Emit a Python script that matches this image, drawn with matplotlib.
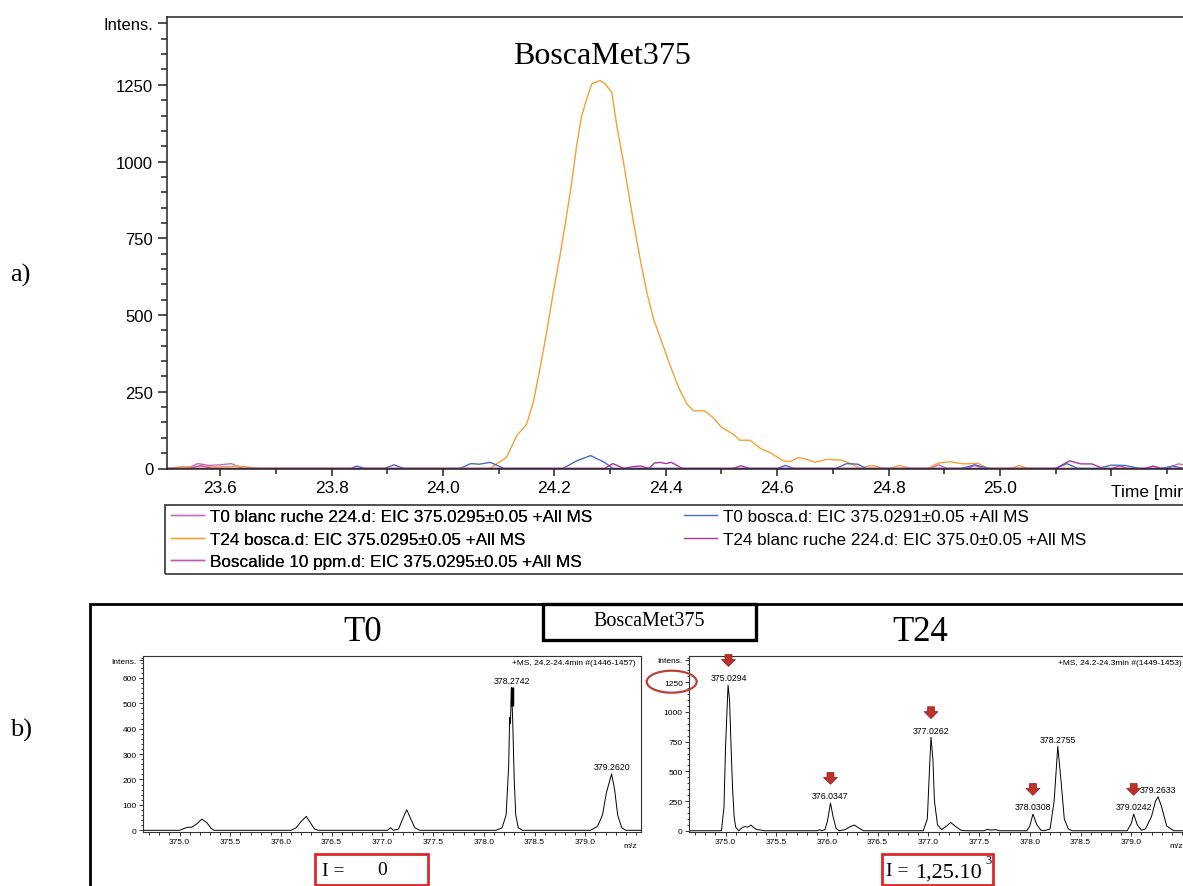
import matplotlib
matplotlib.use('Agg')
import matplotlib.pyplot as plt
from matplotlib.patches import Rectangle, Ellipse
from matplotlib.ticker import MultipleLocator, FixedLocator

plt.rcParams['font.family'] = ['Liberation Sans', 'DejaVu Sans']

W, H = 1183, 887

# ---- a) EIC chromatograms (time [min], intensity) ----
t24_bosca_t = [23.505, 23.53, 23.55, 23.57, 23.59, 23.61, 23.63, 23.65, 23.67, 24.084,
               24.114, 24.132, 24.150, 24.162, 24.174, 24.186, 24.198, 24.210, 24.222, 24.231,
               24.240, 24.249, 24.258, 24.267, 24.282, 24.291, 24.303, 24.312, 24.324, 24.333,
               24.342, 24.354, 24.366, 24.378, 24.393, 24.408, 24.423, 24.438, 24.450, 24.470,
               24.485, 24.500, 24.521, 24.533, 24.551, 24.572, 24.587, 24.611, 24.623, 24.638,
               24.653, 24.668, 24.689, 24.716, 24.731, 24.749, 24.765, 24.775, 24.79, 24.80,
               24.82, 24.84, 24.87, 24.89, 24.91, 24.935, 24.96, 24.98, 25.02, 25.035,
               25.05, 25.45]
t24_bosca_i = [0, 6, 5, 7, 5, 6, 8, 5, 0, 0,
               36, 106, 144, 215, 324, 443, 574, 693, 824, 932,
               1052, 1149, 1204, 1253, 1264, 1253, 1226, 1117, 998, 900,
               802, 682, 574, 487, 411, 335, 264, 210, 188, 188,
               166, 134, 112, 92, 92, 63, 52, 25, 22, 36,
               30, 20, 30, 27, 17, 0, 9, 9, 0, 0,
               10, 0, 0, 18, 22, 15, 17, 0, 0, 10,
               0, 0]

t0_bosca_t = [23.505, 23.835, 23.845, 23.86, 23.895, 23.912, 23.93, 24.03, 24.05, 24.065,
              24.085, 24.11, 24.215, 24.24, 24.265, 24.29, 24.305, 24.60, 24.615, 24.63,
              24.705, 24.725, 24.745, 24.76, 24.93, 24.955, 24.98, 25.10, 25.12, 25.14,
              25.175, 25.20, 25.225, 25.25, 25.29, 25.31, 25.33, 25.45]
t0_bosca_i = [0, 0, 8, 0, 0, 12, 0, 0, 16, 14,
              20, 0, 0, 25, 42, 20, 0, 0, 10, 0,
              0, 16, 14, 0, 0, 12, 0, 0, 16, 0,
              0, 11, 10, 0, 0, 8, 0, 0]

t24_blanc_t = [23.505, 24.29, 24.305, 24.325, 24.34, 24.355, 24.37, 24.38, 24.39, 24.40,
               24.41, 24.43, 24.52, 24.535, 24.55, 25.10, 25.125, 25.145, 25.165, 25.185,
               25.26, 25.275, 25.29, 25.45]
t24_blanc_i = [0, 0, 16, 0, 6, 8, 0, 18, 20, 16,
               20, 0, 0, 9, 0, 0, 25, 15, 15, 0,
               0, 8, 0, 0]

t0_blanc_t = [23.505, 23.54, 23.56, 23.58, 23.60, 23.62, 23.64, 24.875, 24.89, 24.905,
              25.30, 25.32, 25.34, 25.36, 25.45]
t0_blanc_i = [0, 0, 16, 10, 12, 16, 0, 0, 12, 0,
              0, 15, 10, 0, 0]

bosc_t = [23.505, 23.545, 23.565, 23.585, 24.94, 24.955, 24.97, 25.2, 25.215, 25.23, 25.45]
bosc_i = [0, 0, 10, 0, 0, 10, 0, 0, 8, 0, 0]

labels = ['T0 blanc ruche 224.d: EIC 375.0295\u00b10.05 +All MS',
          'T24 bosca.d: EIC 375.0295\u00b10.05 +All MS',
          'Boscalide 10 ppm.d: EIC 375.0295\u00b10.05 +All MS',
          'T0 bosca.d: EIC 375.0291\u00b10.05 +All MS',
          'T24 blanc ruche 224.d: EIC 375.0\u00b10.05 +All MS']

time_ticks = [23.6, 23.8, 24.0, 24.2, 24.4, 24.6, 24.8, 25.0, 25.2]
int_ticks = [0, 250, 500, 750, 1000, 1250, 1450]

# ---- b) mass spectra (m/z, intensity) ----
t0_mz = [374.64, 375.00, 375.05, 375.08, 375.12, 375.17, 375.22, 375.27, 375.31, 375.34,
         376.10, 376.15, 376.20, 376.25, 376.29, 376.33, 376.37,
         377.05, 377.08, 377.11, 377.16, 377.20, 377.24, 377.28, 377.32, 377.37,
         378.12, 378.18, 378.22, 378.245, 378.255, 378.262, 378.274, 378.285, 378.30, 378.315,
         378.34, 378.38, 379.05, 379.12, 379.17, 379.21, 379.26, 379.29, 379.32, 379.36,
         379.40, 379.55]
t0_int = [0, 0, 8, 12, 12, 25, 44, 30, 8, 0,
          0, 10, 35, 55, 30, 5, 0,
          0, 10, 0, 5, 45, 81, 45, 10, 0,
          0, 10, 60, 250, 445, 420, 563, 430, 200, 60,
          10, 0, 0, 15, 60, 150, 222, 160, 60, 10,
          0, 0]

t24_mz = [374.64, 374.96, 374.985, 375.00, 375.025, 375.04, 375.055, 375.07, 375.085, 375.10,
          375.13, 375.17, 375.20, 375.22, 375.25, 375.28, 375.31, 375.35, 375.38,
          375.90, 375.93, 375.95, 375.98, 376.005, 376.035, 376.06, 376.09, 376.12,
          376.18, 376.23, 376.27, 376.31, 376.36,
          376.95, 376.99, 377.01, 377.026, 377.045, 377.06, 377.09, 377.13, 377.18, 377.22,
          377.27, 377.32, 377.36, 377.55, 377.58, 377.62, 377.66, 377.70,
          377.97, 378.00, 378.031, 378.07, 378.11, 378.14, 378.20, 378.24, 378.276, 378.31,
          378.34, 378.38, 378.42,
          378.96, 379.00, 379.024, 379.06, 379.10, 379.14, 379.20, 379.24, 379.265, 379.30,
          379.35, 379.42, 379.60]
t24_int = [0, 0, 200, 700, 1225, 1100, 700, 350, 120, 30,
           0, 30, 35, 30, 48, 25, 10, 5, 0,
           0, 8, 0, 10, 80, 233, 120, 20, 0,
           10, 35, 48, 25, 0,
           0, 100, 500, 786, 600, 250, 50, 10, 40, 70,
           35, 5, 0, 0, 12, 5, 10, 0,
           0, 40, 140, 50, 5, 0, 15, 250, 710, 400,
           100, 15, 0,
           0, 60, 140, 50, 5, 15, 120, 250, 286, 200,
           40, 0, 0]

t0_peaks = [378.2742, 379.2620]
t0_peak_int = [563, 222]
t24_peaks = [375.0294, 376.0347, 377.0262, 378.0308, 378.2755, 379.0242, 379.2633]
t24_peak_int = [1225, 233, 786, 140, 710, 140, 286]
t24_arrow = [True, True, True, True, False, True, False]

mz_ticks = [375.0, 375.5, 376.0, 376.5, 377.0, 377.5, 378.0, 378.5, 379.0]


def px_axes(left, top, right, bottom):
    return fig.add_axes([left / W, 1 - bottom / H, (right - left) / W, (bottom - top) / H])


def ftext(x, y, s, **kw):
    # text placed in picture pixels (from top-left)
    return fig.text(x / W, 1 - y / H, s, **kw)


fig = plt.figure(figsize=(W / 100, H / 100), dpi=100)

# ================= a) =================
ax = px_axes(167, 18, 1250, 469.5)
ax.set_xlim(23.5045, 25.4489)
ax.set_ylim(0, 1471)
lw = 1.0
l_t0b, = ax.plot(t0_blanc_t, t0_blanc_i, color='#c66cbc', lw=lw)
l_t24, = ax.plot(t24_bosca_t, t24_bosca_i, color='#f7a035', lw=lw)
l_bos, = ax.plot(bosc_t, bosc_i, color='#c257b4', lw=lw)
l_t0, = ax.plot(t0_bosca_t, t0_bosca_i, color='#4a6cc0', lw=lw)
l_t24b, = ax.plot(t24_blanc_t, t24_blanc_i, color='#a8359c', lw=lw)
for s in ax.spines.values():
    s.set_linewidth(1.1)
    s.set_color('#222222')
ax.xaxis.set_major_locator(FixedLocator(time_ticks))
ax.set_xticklabels(['%.1f' % t for t in time_ticks[:-1]] + [''])
ax.xaxis.set_minor_locator(MultipleLocator(0.1))
ax.yaxis.set_major_locator(FixedLocator(int_ticks))
ax.set_yticklabels([str(v) for v in int_ticks[:-1]] + ['Intens.'])
ax.yaxis.set_minor_locator(MultipleLocator(50))
ax.tick_params(axis='both', which='both', direction='out', color='#222222', width=1.1)
ax.tick_params(axis='x', which='major', length=5, pad=3.3, labelsize=12.5)
ax.tick_params(axis='x', which='minor', length=3.6)
ax.tick_params(axis='y', which='major', length=6.5, pad=3.4, labelsize=12)
ax.tick_params(axis='y', which='minor', length=4)
ax.text(25.2, -0.034, 'Time [min]', transform=ax.get_xaxis_transform(),
        ha='left', va='top', fontsize=12.5)
ftext(602, 56, 'BoscaMet375', fontsize=23, family='Liberation Serif', ha='center', va='center')

# legend (two blocks inside one frame)
leg_kw = dict(loc='upper left', frameon=False, fontsize=12.3, handlelength=1.95,
              handletextpad=0.33, labelspacing=0.45, borderpad=0, borderaxespad=0)
leg1 = fig.legend([l_t0b, l_t24, l_bos], labels[:3], bbox_to_anchor=(171 / W, 1 - 510 / H), **leg_kw)
fig.add_artist(leg1)
fig.legend([l_t0, l_t24b], labels[3:], bbox_to_anchor=(684 / W, 1 - 510 / H), **leg_kw)
fig.add_artist(Rectangle((165 / W, 1 - 575 / H), 1100 / W, 69 / H, transform=fig.transFigure,
                         fill=False, ec='#333333', lw=1.2))

ftext(10, 275, 'a)', fontsize=19, family='Liberation Serif', va='center')
ftext(10, 730, 'b)', fontsize=19, family='Liberation Serif', va='center')

# ================= b) =================
fig.add_artist(Rectangle((90 / W, 1 - 920 / H), 1200 / W, 315 / H, transform=fig.transFigure,
                         fill=False, ec='black', lw=2))
fig.add_artist(Rectangle((543 / W, 1 - 641 / H), 213 / W, 36 / H, transform=fig.transFigure,
                         fc='white', ec='black', lw=2.4, zorder=5))
ftext(649, 622, 'BoscaMet375', fontsize=14.5, family='Liberation Serif',
      ha='center', va='center', zorder=6)
ftext(363, 633, 'T0', fontsize=25, family='Liberation Serif', ha='center', va='center')
ftext(920, 633, 'T24', fontsize=25, family='Liberation Serif', ha='center', va='center')


def spectrum(left, mz, inten, ylim, ytick_vals, ytop, ymin_step, header):
    a = px_axes(left, 657.3, left + 498, 832.7)
    a.plot(mz, inten, color='black', lw=0.7)
    a.set_xlim(374.64, 379.55)
    a.set_ylim(*ylim)
    for s in a.spines.values():
        s.set_linewidth(0.8)
        s.set_color('#333333')
    a.xaxis.set_major_locator(FixedLocator(mz_ticks))
    a.set_xticklabels(['%.1f' % m for m in mz_ticks])
    a.xaxis.set_minor_locator(MultipleLocator(0.1))
    a.yaxis.set_major_locator(FixedLocator(ytick_vals + [ytop]))
    a.set_yticklabels([str(v) for v in ytick_vals] + ['Intens.'])
    a.yaxis.set_minor_locator(MultipleLocator(ymin_step))
    a.tick_params(axis='both', which='both', direction='out', color='#333333', width=0.7)
    a.tick_params(axis='both', which='major', length=3, pad=1.5, labelsize=6)
    a.tick_params(axis='both', which='minor', length=1.8)
    a.text(379.44, -0.06, 'm/z', transform=a.get_xaxis_transform(), ha='center', va='top', fontsize=6)
    a.text(0.99, 0.967, header, transform=a.transAxes, ha='right', va='center', fontsize=6)
    return a


ax0 = spectrum(143, t0_mz, t0_int, (-5.5, 685), [0, 100, 200, 300, 400, 500, 600], 670, 20,
               '+MS, 24.2-24.4min #(1446-1457)')
for m, v in zip(t0_peaks, t0_peak_int):
    ax0.annotate('%.4f' % m, (m, v), xytext=(0, 2), textcoords='offset points',
                 ha='center', va='bottom', fontsize=6.3)
ax0.plot([t0_peaks[0], t0_peaks[0]], [490, 565], color='black', lw=2.5, solid_capstyle='butt')

ax24 = spectrum(689, t24_mz, t24_int, (-8, 1468), [0, 250, 500, 750, 1000, 1250], 1440, 50,
                '+MS, 24.2-24.3min #(1449-1453)')
for m, v, arr in zip(t24_peaks, t24_peak_int, t24_arrow):
    ax24.annotate('%.4f' % m, (m, v), xytext=(0, 2), textcoords='offset points',
                  ha='center', va='bottom', fontsize=6.3)
    if arr:
        ax24.annotate('', xy=(m, v), xytext=(0, 22), textcoords='offset points',
                      arrowprops=dict(arrowstyle='simple,head_length=0.5,head_width=1.0,tail_width=0.5',
                                      fc='#c0302a', ec='#8a1c1c', lw=0.5, shrinkA=0, shrinkB=13.5,
                                      mutation_scale=10))

fig.add_artist(Ellipse((671.7 / W, 1 - 682.7 / H), 50 / W, 22 / H, transform=fig.transFigure,
                       fill=False, ec='#b5443c', lw=1.6))

# intensity boxes
fig.add_artist(Rectangle((315 / W, 1 - 886 / H), 113 / W, 31 / H, transform=fig.transFigure,
                         fill=False, ec='#e0282c', lw=2))
ftext(322, 872, 'I =', fontsize=14, family='Liberation Serif', va='center')
ftext(382, 871, '0', fontsize=14, family='Liberation Serif', ha='center', va='center')
fig.add_artist(Rectangle((882 / W, 1 - 886 / H), 111 / W, 31 / H, transform=fig.transFigure,
                         fill=False, ec='#e0282c', lw=2))
ftext(886, 872, 'I =', fontsize=14, family='Liberation Serif', va='center')
ftext(915, 873, '1,25.10', fontsize=16, family='Liberation Serif', va='center')
ftext(985, 861, '3', fontsize=9, family='Liberation Serif', va='center')

fig.savefig('out.png', dpi=100)
